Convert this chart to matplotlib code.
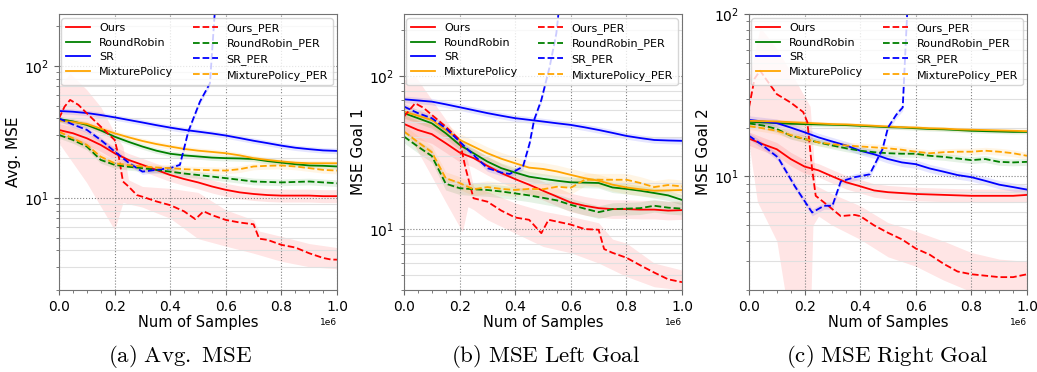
import numpy as np
import matplotlib
matplotlib.use("Agg")
import matplotlib.pyplot as plt
from matplotlib.ticker import MultipleLocator, NullFormatter

# ---------------- data (x in units of 1e6 samples) ----------------
grid = [0, .05, .1, .15, .2, .25, .3, .35, .4, .45, .5, .55, .6, .65, .7, .75, .8, .85, .9, .95, 1.0]

# Panel (a) Avg. MSE
a_ours = [32.7, 30.9, 28.3, 25.2, 21.8, 19.4, 17.8, 16.3, 14.9, 13.9, 13.1, 12.2, 11.5, 11.0, 10.7, 10.5, 10.4, 10.4, 10.4, 10.3, 10.3]
a_sr = [45.6, 45.0, 44.0, 42.5, 40.8, 39.0, 37.3, 35.6, 34.1, 32.8, 31.8, 30.8, 29.7, 28.4, 27.1, 26.0, 24.9, 24.0, 23.4, 22.9, 22.7]
a_rr = [39.6, 38.0, 35.7, 32.5, 29.1, 26.6, 24.5, 22.8, 21.6, 21.0, 20.6, 20.2, 20.0, 19.9, 19.7, 19.0, 18.5, 18.0, 17.6, 17.5, 17.3]
a_mp = [38.6, 37.6, 36.4, 33.5, 30.9, 28.8, 27.0, 25.6, 24.5, 23.5, 22.8, 22.3, 21.8, 21.0, 20.0, 19.4, 18.9, 18.5, 18.3, 18.3, 18.3]
a_rr_per = [30.0, 27.5, 24.5, 19.4, 17.8, 17.2, 16.8, 16.3, 15.8, 15.3, 14.9, 14.5, 14.1, 13.7, 13.3, 13.2, 13.1, 13.2, 13.3, 13.1, 12.9]
a_mp_per = [31.8, 28.3, 25.2, 20.5, 18.3, 17.7, 17.3, 17.0, 16.8, 16.5, 16.3, 16.2, 16.1, 16.5, 17.3, 17.5, 17.6, 17.3, 16.8, 16.3, 16.1]
a_ours_per_x = [0, 0.02, 0.04, 0.07, 0.1, 0.15, 0.2, 0.215, 0.23, 0.25, 0.28, 0.3, 0.35, 0.4, 0.45, 0.49, 0.5, 0.52, 0.55, 0.6, 0.65, 0.7, 0.72, 0.75, 0.8, 0.85, 0.9, 0.95, 0.98, 1.0]
a_ours_per = [40, 49.2, 55.3, 50.7, 43.8, 34.7, 27.5, 20.6, 13.3, 12.2, 10.5, 10.2, 9.4, 8.8, 7.9, 6.9, 7.2, 7.9, 7.4, 6.8, 6.5, 6.3, 4.9, 4.8, 4.4, 4.2, 3.8, 3.5, 3.4, 3.4]
a_ours_per_hi_x = [0, 0.04, 0.1, 0.15, 0.2, 0.23, 0.25, 0.3, 0.4, 0.5, 0.6, 0.7, 0.72, 0.8, 0.9, 1.0]
a_ours_per_hi = [70, 88, 66, 49, 31, 24.5, 13.7, 12.2, 11.8, 11.0, 8.1, 6.8, 5.6, 5.1, 4.5, 4.2]
a_ours_per_lo_x = [0, 0.1, 0.2, 0.23, 0.3, 0.35, 0.4, 0.5, 0.6, 0.7, 0.8, 0.9, 1.0]
a_ours_per_lo = [26, 13, 5.7, 9.2, 8.5, 7.7, 7.0, 4.9, 4.3, 3.8, 3.3, 3.0, 2.9]
a_sr_per_x = [0, 0.05, 0.1, 0.15, 0.2, 0.25, 0.3, 0.35, 0.4, 0.435, 0.465, 0.507, 0.543, 0.56]
a_sr_per = [40, 36, 32.8, 27.5, 22.5, 18.5, 15.8, 16.3, 16.8, 17.8, 31.8, 53.7, 74, 250]

# Panel (b) MSE Left Goal
b_ours = [48.6, 44.4, 41.7, 36.4, 31.6, 29.1, 25.9, 23.2, 21.2, 19.5, 17.8, 16.3, 14.9, 14.2, 13.7, 13.5, 13.5, 13.4, 13.4, 13.2, 13.3]
b_sr = [70.4, 69.2, 68.0, 65.3, 62.5, 59.8, 57.2, 55.0, 53.0, 51.7, 50.4, 49.1, 47.9, 46.2, 44.4, 42.5, 40.6, 39.3, 38.2, 37.9, 37.7]
b_rr = [57.2, 53.0, 49.1, 42.3, 35.5, 31.3, 27.6, 25.0, 23.4, 22.0, 21.3, 20.7, 20.2, 20.1, 20.0, 18.7, 18.3, 17.8, 17.2, 16.6, 15.5]
b_mp = [58.5, 55.0, 51.6, 44.4, 38.3, 34.6, 31.3, 28.8, 26.9, 25.2, 24.7, 23.8, 22.6, 21.5, 20.7, 19.5, 18.7, 18.2, 17.8, 17.9, 18.0]
b_rr_per = [40.2, 34.6, 30.0, 19.8, 18.5, 18.2, 18.0, 17.6, 17.1, 16.6, 16.0, 15.4, 14.4, 13.6, 12.9, 13.5, 13.6, 13.7, 14.2, 13.8, 13.6]
b_mp_per = [43.4, 37.0, 31.8, 21.5, 20.0, 18.2, 18.8, 18.3, 18.0, 18.3, 18.2, 18.9, 18.6, 21.0, 21.0, 21.0, 21.0, 20.0, 18.8, 19.4, 19.0]
b_ours_per_x = [0, 0.02, 0.04, 0.07, 0.1, 0.15, 0.2, 0.22, 0.25, 0.3, 0.35, 0.4, 0.45, 0.494, 0.52, 0.6, 0.65, 0.7, 0.72, 0.75, 0.8, 0.85, 0.9, 0.95, 1.0]
b_ours_per = [54.3, 60, 66.3, 62, 55.7, 46.7, 38.3, 25.6, 15.9, 15.1, 13.2, 11.9, 11.5, 9.4, 11.5, 10.7, 10.0, 9.9, 7.4, 7.0, 6.5, 5.8, 5.2, 4.7, 4.5]
b_ours_per_hi_x = [0, 0.04, 0.1, 0.15, 0.2, 0.22, 0.25, 0.3, 0.4, 0.5, 0.6, 0.7, 0.75, 0.8, 0.9, 1.0]
b_ours_per_hi = [94, 100, 70, 52, 38, 33, 19, 17.6, 14.8, 13.1, 12.1, 11, 8.6, 8.1, 6.0, 5.4]
b_ours_per_lo_x = [0, 0.05, 0.1, 0.15, 0.21, 0.23, 0.25, 0.3, 0.4, 0.5, 0.6, 0.7, 0.8, 0.9, 1.0]
b_ours_per_lo = [45, 32, 22, 15, 9.6, 14, 13.4, 11.5, 9.4, 7.7, 7.0, 6.0, 4.9, 4.2, 4.0]
b_sr_per_x = [0, 0.05, 0.1, 0.15, 0.2, 0.25, 0.3, 0.35, 0.38, 0.428, 0.452, 0.468, 0.494, 0.524, 0.548, 0.556]
b_sr_per = [63.1, 57.2, 53, 45.6, 37.3, 30.5, 25, 23.4, 22.9, 25.6, 36.4, 51.6, 69.7, 115, 190, 260]

# Panel (c) MSE Right Goal
c_ours = [17.1, 15.8, 14.7, 12.8, 11.5, 10.9, 10.0, 9.2, 8.7, 8.2, 8.0, 7.9, 7.8, 7.75, 7.7, 7.65, 7.6, 7.6, 7.6, 7.6, 7.7]
c_sr = [22.3, 21.8, 21.3, 20.0, 18.7, 17.4, 16.4, 15.5, 14.4, 13.7, 12.8, 12.2, 11.9, 11.2, 10.7, 10.2, 9.9, 9.4, 8.9, 8.6, 8.3]
c_rr = [21.7, 21.5, 21.3, 21.1, 21.0, 20.9, 20.8, 20.7, 20.5, 20.3, 20.1, 20.0, 19.8, 19.6, 19.5, 19.3, 19.1, 19.0, 18.9, 18.8, 18.8]
c_mp = [22.0, 21.9, 21.8, 21.6, 21.4, 21.2, 21.0, 20.9, 20.7, 20.5, 20.3, 20.1, 20.0, 19.8, 19.7, 19.5, 19.4, 19.3, 19.2, 19.1, 19.0]
c_rr_per = [21.2, 20.6, 19.6, 17.8, 17.0, 16.2, 15.5, 14.9, 14.4, 14.1, 13.9, 13.8, 13.8, 13.4, 13.2, 12.9, 12.6, 12.8, 12.3, 12.2, 12.3]
c_mp_per = [20.4, 19.8, 19.1, 18.0, 17.0, 16.2, 15.8, 15.5, 15.3, 15.1, 14.9, 14.6, 14.2, 13.9, 14.1, 14.2, 14.2, 14.4, 14.2, 13.9, 13.4]
c_ours_per_x = [0, 0.02, 0.04, 0.06, 0.1, 0.15, 0.195, 0.21, 0.227, 0.24, 0.285, 0.33, 0.38, 0.4, 0.45, 0.5, 0.55, 0.6, 0.65, 0.7, 0.75, 0.8, 0.85, 0.9, 0.95, 1.0]
c_ours_per = [26.6, 40, 44.8, 40, 32.1, 28.5, 24.9, 21.6, 11.1, 7.6, 6.6, 5.7, 5.8, 5.7, 5.0, 4.5, 4.1, 3.6, 3.3, 2.9, 2.6, 2.5, 2.45, 2.4, 2.4, 2.5]
c_ours_per_hi_x = [0, 0.04, 0.1, 0.15, 0.2, 0.22, 0.24, 0.3, 0.4, 0.5, 0.6, 0.7, 0.8, 0.9, 1.0]
c_ours_per_hi = [40, 83, 61, 44, 31, 27, 8.8, 7.8, 6.6, 5.2, 4.6, 4.0, 3.4, 3.1, 3.0]
c_ours_per_lo_x = [0, 0.03, 0.1, 0.14, 0.22, 0.23, 0.25, 0.3, 0.4, 0.5, 0.6, 0.7, 0.8, 0.9, 1.0]
c_ours_per_lo = [16, 7, 4.0, 1.5, 1.2, 5.0, 5.7, 5.0, 4.1, 3.2, 2.8, 2.3, 1.95, 1.9, 1.9]
c_sr_per_x = [0, 0.05, 0.104, 0.165, 0.227, 0.27, 0.3, 0.33, 0.38, 0.434, 0.48, 0.5, 0.53, 0.553, 0.56, 0.57]
c_sr_per = [17.8, 15.5, 13.1, 8.7, 6.0, 6.6, 6.6, 9.3, 9.9, 10.3, 14.7, 20, 24, 26.6, 48, 110]

# band spread factors read from the shaded areas (Ours, RR, SR, MP, RR_PER, SR_PER, MP_PER)
spread_a = [1.12, 1.05, 1.05, 1.05, 1.06, 1.05, 1.06]
spread_b = [1.15, 1.08, 1.05, 1.10, 1.10, 1.05, 1.10]
spread_c = [1.10, 1.03, 1.06, 1.03, 1.05, 1.05, 1.05]

ylabels = ["Avg. MSE", "MSE Goal 1", "MSE Goal 2"]
captions = ["(a)\\ Avg.\\ MSE", "(b)\\ MSE\\ Left\\ Goal", "(c)\\ MSE\\ Right\\ Goal"]
ylims = [(2.0, 248), (4.0, 254), (2.0, 100)]

panels = [
    dict(ours=a_ours, sr=a_sr, rr=a_rr, mp=a_mp, rr_per=a_rr_per, mp_per=a_mp_per,
         op_x=a_ours_per_x, op=a_ours_per, op_hi_x=a_ours_per_hi_x, op_hi=a_ours_per_hi,
         op_lo_x=a_ours_per_lo_x, op_lo=a_ours_per_lo, sp_x=a_sr_per_x, sp=a_sr_per, spread=spread_a),
    dict(ours=b_ours, sr=b_sr, rr=b_rr, mp=b_mp, rr_per=b_rr_per, mp_per=b_mp_per,
         op_x=b_ours_per_x, op=b_ours_per, op_hi_x=b_ours_per_hi_x, op_hi=b_ours_per_hi,
         op_lo_x=b_ours_per_lo_x, op_lo=b_ours_per_lo, sp_x=b_sr_per_x, sp=b_sr_per, spread=spread_b),
    dict(ours=c_ours, sr=c_sr, rr=c_rr, mp=c_mp, rr_per=c_rr_per, mp_per=c_mp_per,
         op_x=c_ours_per_x, op=c_ours_per, op_hi_x=c_ours_per_hi_x, op_hi=c_ours_per_hi,
         op_lo_x=c_ours_per_lo_x, op_lo=c_ours_per_lo, sp_x=c_sr_per_x, sp=c_sr_per, spread=spread_c),
]

# ---------------- figure ----------------
fig = plt.figure(figsize=(10.37, 3.72), dpi=100)
lefts = [59 / 1037, 404 / 1037, 749 / 1037]
W = 278 / 1037
B = 1 - 290 / 372
H = 276 / 372
cap_x = [180 / 1037, 546 / 1037, 887 / 1037]

RED, GREEN, BLUE, ORANGE = "red", "green", "blue", "orange"
LW = 1.3
ALPHA = 0.1
S = 1e6

for i, p in enumerate(panels):
    ax = fig.add_axes([lefts[i], B, W, H])
    g = np.array(grid) * S
    sp = p["spread"]

    def band(x, y, f, c):
        y = np.array(y)
        ax.fill_between(x, y / f, y * f, color=c, alpha=ALPHA, linewidth=0)

    # shaded bands
    band(g, p["ours"], sp[0], RED)
    band(g, p["rr"], sp[1], GREEN)
    band(g, p["sr"], sp[2], BLUE)
    band(g, p["mp"], sp[3], ORANGE)
    band(g, p["rr_per"], sp[4], GREEN)
    band(np.array(p["sp_x"]) * S, p["sp"], sp[5], BLUE)
    band(g, p["mp_per"], sp[6], ORANGE)
    xb = np.linspace(0, 1, 201)
    hi = np.interp(xb, p["op_hi_x"], np.log(p["op_hi"]))
    lo = np.interp(xb, p["op_lo_x"], np.log(p["op_lo"]))
    ax.fill_between(xb * S, np.exp(lo), np.exp(hi), color=RED, alpha=ALPHA, linewidth=0)

    # lines
    l1, = ax.plot(g, p["ours"], color=RED, lw=LW, label="Ours")
    l2, = ax.plot(g, p["rr"], color=GREEN, lw=LW, label="RoundRobin")
    l3, = ax.plot(g, p["sr"], color=BLUE, lw=LW, label="SR")
    l4, = ax.plot(g, p["mp"], color=ORANGE, lw=LW, label="MixturePolicy")
    l5, = ax.plot(np.array(p["op_x"]) * S, p["op"], color=RED, lw=LW, ls="--", label="Ours_PER")
    l6, = ax.plot(g, p["rr_per"], color=GREEN, lw=LW, ls="--", label="RoundRobin_PER")
    l7, = ax.plot(np.array(p["sp_x"]) * S, p["sp"], color=BLUE, lw=LW, ls="--", label="SR_PER")
    l8, = ax.plot(g, p["mp_per"], color=ORANGE, lw=LW, ls="--", label="MixturePolicy_PER")

    ax.set_yscale("log")
    ax.set_xlim(0, 1.0 * S)
    ax.set_ylim(*ylims[i])
    ax.xaxis.set_major_locator(MultipleLocator(0.2 * S))
    ax.xaxis.set_minor_locator(MultipleLocator(0.05 * S))
    ax.yaxis.set_minor_formatter(NullFormatter())
    ax.grid(which="major", linestyle=":", color="0.5", linewidth=0.8)
    ax.grid(which="minor", axis="y", linestyle="-", color="0.88", linewidth=0.8)
    ax.tick_params(labelsize=10, color="0.4")
    ax.tick_params(which="minor", color="0.4")
    ax.xaxis.get_offset_text().set_fontsize(6.5)
    for s in ax.spines.values():
        s.set_color("0.45")
    ax.set_xlabel("Num of Samples", fontsize=10.5, labelpad=1)
    ax.set_ylabel(ylabels[i], fontsize=11, labelpad=2)
    leg = ax.legend(handles=[l1, l2, l3, l4, l5, l6, l7, l8], ncol=2, fontsize=8,
                    loc="upper right", framealpha=0.8, columnspacing=1.8,
                    handlelength=2.2, labelspacing=0.42, borderaxespad=0.4)
    fig.text(cap_x[i], 1 - 356 / 372, "$\\mathrm{" + captions[i] + "}$",
             ha="center", va="center", fontsize=16.5, math_fontfamily="cm")

fig.savefig("out.png", dpi=100)
